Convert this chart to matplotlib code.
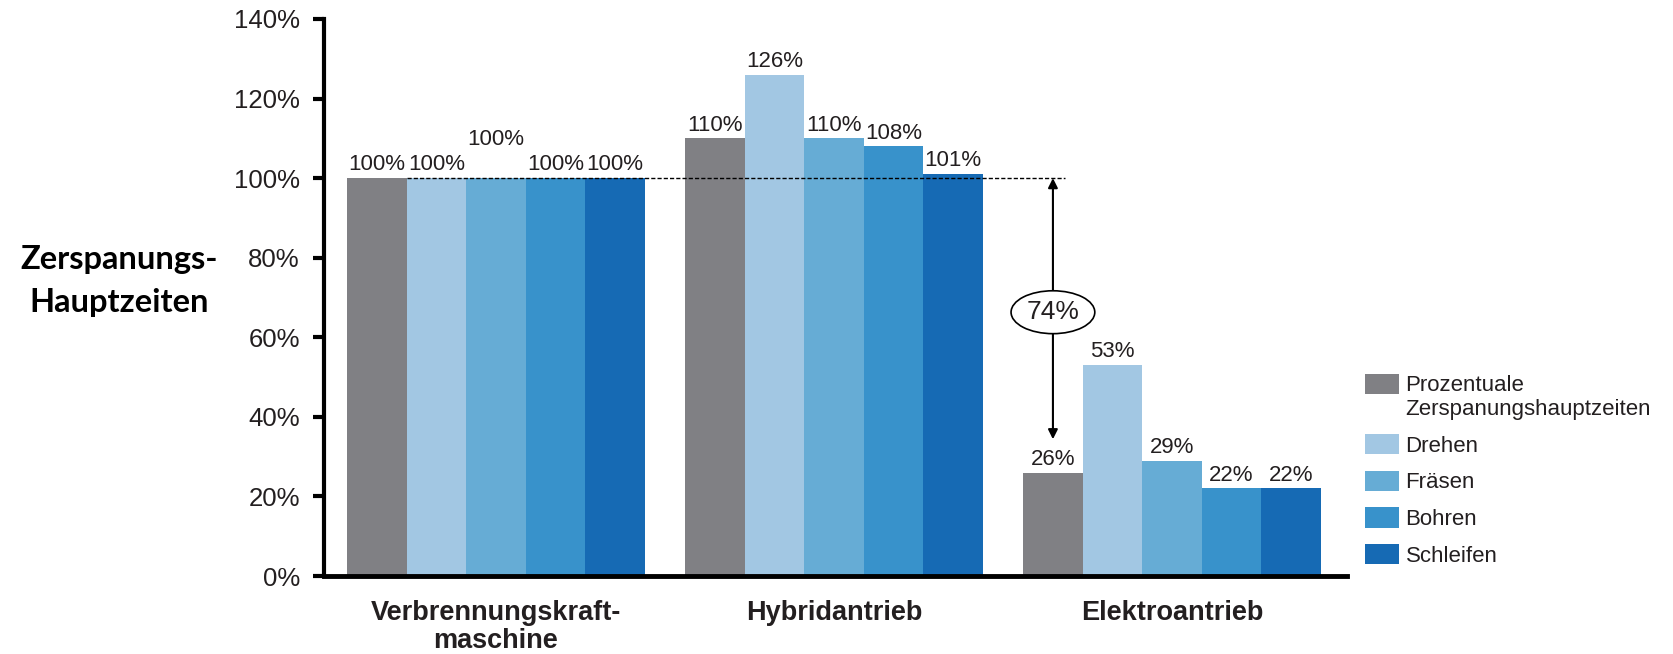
import matplotlib
matplotlib.use("Agg")
import matplotlib.pyplot as plt
import numpy as np

# data
categories = ["Verbrennungskraft-\nmaschine", "Hybridantrieb", "Elektroantrieb"]
series = ["Prozentuale\nZerspanungshauptzeiten", "Drehen", "Fräsen", "Bohren", "Schleifen"]
prozentual = [100, 110, 26]
drehen = [100, 126, 53]
fraesen = [100, 110, 29]
bohren = [100, 108, 22]
schleifen = [100, 101, 22]
reduction_label = "74%"

values = [prozentual, drehen, fraesen, bohren, schleifen]
colors = ["#808084", "#a2c7e3", "#66acd5", "#3892cb", "#166ab4"]

plt.rcParams['font.family'] = ['Liberation Sans', 'DejaVu Sans']

fig = plt.figure(figsize=(16.74, 6.54), dpi=100)
ax = fig.add_axes([323.5/1674, 1-576/654, (1347-323.5)/1674, (576-19)/654])

x = np.arange(len(categories))
w = 0.176
txtc = "#231f20"
for i, (vals, col, name) in enumerate(zip(values, colors, series)):
    pos = x + (i - 2) * w
    ax.bar(pos, vals, width=w, color=col, label=name, zorder=2)
    for j, (p, v) in enumerate(zip(pos, vals)):
        # the middle label of the first group sits higher in the original
        off = 20 if (j == 0 and i == 2) else 2
        ax.annotate(f"{v}%", (p, v), xytext=(0, off), textcoords="offset points",
                    ha="center", va="bottom", fontsize=16, color=txtc)

# double arrow showing the reduction, centred over the grey bar of the last group
arrow_x = x[2] - 2 * w
ax.hlines(100, x[0] - 1.5 * w, arrow_x + 0.036, colors="black",
          linestyles=(0, (3, 1.5)), lw=1, zorder=3)
ax.annotate("", xy=(arrow_x, prozentual[2]), xytext=(arrow_x, 100),
            arrowprops=dict(arrowstyle="<|-|>", color="black", lw=1.5,
                            shrinkA=0, shrinkB=24, mutation_scale=14), zorder=4)
ax.text(arrow_x, 66.3, reduction_label, ha="center", va="center", fontsize=19, color=txtc,
        bbox=dict(boxstyle="ellipse,pad=0.12", fc="white", ec="black", lw=1.2), zorder=5)

ax.set_xlim(-0.51, 2.518)
ax.set_ylim(0, 140)
ax.set_yticks(range(0, 141, 20))
ax.set_yticklabels([f"{t}%" for t in range(0, 141, 20)], fontsize=18.5, color=txtc)
ax.set_xticks(x)
ax.set_xticklabels(categories, fontsize=19.5, fontweight="bold", color=txtc,
                   linespacing=1.1)
ax.tick_params(axis="x", length=0, pad=17)
ax.tick_params(axis="y", length=8, width=3, direction="out", pad=9)

for s in ["top", "right"]:
    ax.spines[s].set_visible(False)
ax.spines["left"].set_linewidth(3)
ax.spines["bottom"].set_linewidth(3.5)

fig.text(119/1674, 1-281/654, "Zerspanungs-\nHauptzeiten", ha="center", va="center",
         fontsize=23.5, fontweight="bold", family=["Lato", "DejaVu Sans"],
         linespacing=1.55)

leg = fig.legend(loc="upper left", bbox_to_anchor=(1356/1674, 1-366/654), frameon=False,
                 fontsize=16, handlelength=1.53, handleheight=1.05, handletextpad=0.3,
                 labelspacing=0.62, labelcolor=txtc, borderaxespad=0)
# put the first patch next to the first line of its two-line label
h0 = leg.legend_handles[0]
h0.set_y(h0.get_y() + 10)

fig.savefig("out.png", dpi=100, facecolor="white")
